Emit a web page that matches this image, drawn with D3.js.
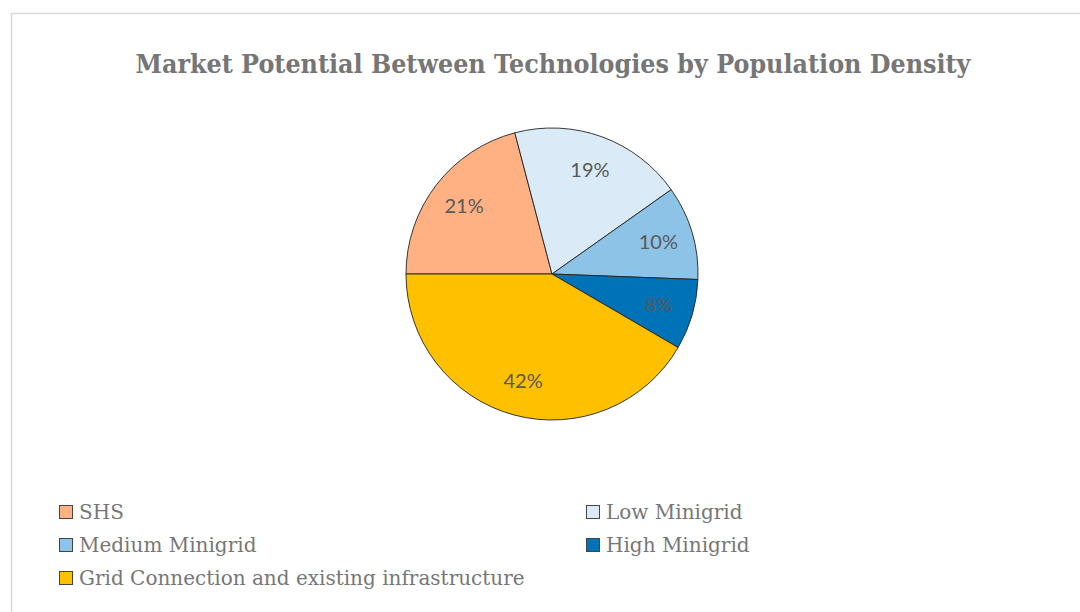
<!DOCTYPE html>
<html>
<head>
<meta charset="utf-8">
<script src="https://cdn.jsdelivr.net/npm/d3@7"></script>
<style>
  body { margin: 0; background: #fff; }
  svg { display: block; }
</style>
</head>
<body>
<div id="chart"></div>
<script>
// Data
const categories = ["SHS", "Low Minigrid", "Medium Minigrid", "High Minigrid", "Grid Connection and existing infrastructure"];
const shares = [20.9, 19.3, 10.4, 7.8, 41.6];
const colors = ["#FFB183", "#DAEBF7", "#8DC3E6", "#0072B8", "#FFC000"];

const width = 1080, height = 612;
const svg = d3.select("#chart").append("svg").attr("width", width).attr("height", height);

// chart frame
svg.append("rect")
  .attr("x", 11.5).attr("y", 13.5)
  .attr("width", width + 10).attr("height", height + 10)
  .attr("fill", "#fff").attr("stroke", "#d9d9d9").attr("stroke-width", 1.5);

// Title
svg.append("text")
  .attr("x", 553).attr("y", 73)
  .attr("text-anchor", "middle")
  .attr("font-family", "'DejaVu Serif', serif")
  .attr("font-weight", "bold")
  .attr("font-size", 26)
  .attr("textLength", 835).attr("lengthAdjust", "spacingAndGlyphs")
  .attr("fill", "#767676")
  .text("Market Potential Between Technologies by Population Density");

// Pie
const cx = 552, cy = 274, radius = 146;
const total = d3.sum(shares);
const pie = d3.pie().sort(null)
  .startAngle(-Math.PI / 2).endAngle(1.5 * Math.PI)
  .value(d => d);
const arcs = pie(shares);
const arc = d3.arc().innerRadius(0).outerRadius(radius);
const labelArc = d3.arc().innerRadius(radius * 0.76).outerRadius(radius * 0.76);

const g = svg.append("g").attr("transform", `translate(${cx},${cy})`);
g.selectAll("path")
  .data(arcs)
  .join("path")
  .attr("d", arc)
  .attr("fill", (d, i) => colors[i])
  .attr("stroke", "#222")
  .attr("stroke-width", 0.9);

g.selectAll("text")
  .data(arcs)
  .join("text")
  .attr("transform", d => `translate(${labelArc.centroid(d)})`)
  .attr("text-anchor", "middle")
  .attr("dy", "0.35em")
  .attr("font-family", "Lato, sans-serif")
  .attr("font-size", 20)
  .attr("fill", "#595959")
  .text(d => Math.round(d.value / total * 100) + "%");

// Legend
const legendX = [59, 586];
const legendY = [512, 545, 578];
const legend = svg.append("g");
categories.forEach((name, i) => {
  const col = i % 2, row = Math.floor(i / 2);
  const item = legend.append("g").attr("transform", `translate(${legendX[col]},${legendY[row]})`);
  item.append("rect")
    .attr("x", 0.5).attr("y", -6.5)
    .attr("width", 13).attr("height", 13)
    .attr("fill", colors[i])
    .attr("stroke", "#444").attr("stroke-width", 1);
  item.append("text")
    .attr("x", 20).attr("y", 0)
    .attr("dy", "0.35em")
    .attr("font-family", "'DejaVu Serif', serif")
    .attr("font-size", 20)
    .attr("fill", "#777")
    .text(name);
});
</script>
</body>
</html>
